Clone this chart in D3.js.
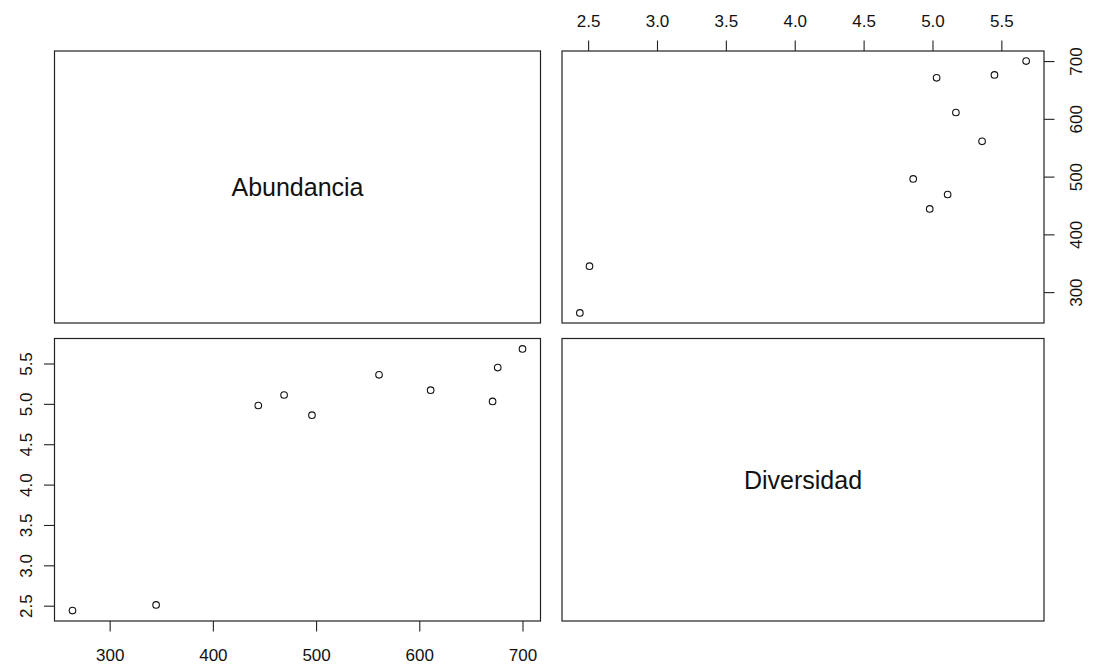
<!DOCTYPE html>
<html>
<head>
<meta charset="utf-8">
<script src="https://cdn.jsdelivr.net/npm/d3@7"></script>
<style>
  body { margin: 0; background: #fff; }
  svg { display: block; }
  text { font-family: "Liberation Sans", Arial, sans-serif; fill: #111; }
</style>
</head>
<body>
<script>
// data
const varNames = ['Abundancia', 'Diversidad'];
const abundancia = [264, 345, 444, 469, 496, 561, 611, 671, 676, 700];
const diversidad = [2.44, 2.51, 4.98, 5.11, 4.86, 5.36, 5.17, 5.03, 5.45, 5.68];
const abundTicks = [300, 400, 500, 600, 700];
const diverTicks = [2.5, 3.0, 3.5, 4.0, 4.5, 5.0, 5.5];

const width = 1095, height = 664;
const cols = [[54.5, 540.5], [562, 1044]];
const rows = [[51, 323], [338.5, 621]];
const tickLen = 10.5;

const columns = [abundancia, diversidad];
const tickSets = [abundTicks, diverTicks];

// R style: data range extended by 4%
function paddedDomain(v) {
  const [lo, hi] = d3.extent(v);
  const pad = (hi - lo) * 0.04;
  return [lo - pad, hi + pad];
}

const xScales = cols.map((c, i) => d3.scaleLinear().domain(paddedDomain(columns[i])).range(c));
const yScales = rows.map((r, i) => d3.scaleLinear().domain(paddedDomain(columns[i])).range([r[1], r[0]]));

const fmt = i => (i === 1 ? d3.format('.1f') : d3.format('d'));

const svg = d3.select('body').append('svg')
  .attr('width', width)
  .attr('height', height);

// panels
for (let r = 0; r < 2; r++) {
  for (let c = 0; c < 2; c++) {
    const g = svg.append('g');
    const [x0, x1] = cols[c];
    const [y0, y1] = rows[r];

    if (r === c) {
      g.append('text')
        .attr('x', (x0 + x1) / 2)
        .attr('y', (y0 + y1) / 2)
        .attr('dy', '0.36em')
        .attr('text-anchor', 'middle')
        .style('font-size', '25px')
        .text(varNames[r]);
    } else {
      const xs = xScales[c], ys = yScales[r];
      g.selectAll('circle')
        .data(d3.range(abundancia.length))
        .enter()
        .append('circle')
        .attr('cx', i => xs(columns[c][i]))
        .attr('cy', i => ys(columns[r][i]))
        .attr('r', 3.3)
        .attr('fill', 'none')
        .attr('stroke', '#111')
        .attr('stroke-width', 1.1);
    }

    g.append('rect')
      .attr('x', x0)
      .attr('y', y0)
      .attr('width', x1 - x0)
      .attr('height', y1 - y0)
      .attr('fill', 'none')
      .attr('stroke', '#222')
      .attr('stroke-width', 1.2);
  }
}

function styleAxis(sel) {
  sel.select('.domain').remove();
  sel.selectAll('.tick line').attr('stroke', '#222').attr('stroke-width', 1.1);
  sel.selectAll('.tick text')
    .style('font-size', '17px')
    .attr('fill', '#111');
}

// top axis (Diversidad) above top-right panel
const topAx = svg.append('g')
  .attr('transform', `translate(0,${rows[0][0]})`)
  .call(d3.axisTop(xScales[1]).tickValues(diverTicks).tickFormat(fmt(1)).tickSize(tickLen).tickSizeOuter(0));
styleAxis(topAx);
topAx.selectAll('.tick text').attr('y', -24.5).attr('dy', 0);

// right axis (Abundancia) beside top-right panel
const rightAx = svg.append('g')
  .attr('transform', `translate(${cols[1][1]},0)`)
  .call(d3.axisRight(yScales[0]).tickValues(abundTicks).tickFormat(fmt(0)).tickSize(tickLen).tickSizeOuter(0));
styleAxis(rightAx);
rightAx.selectAll('.tick text')
  .attr('x', 0).attr('y', 0).attr('dy', 0)
  .attr('text-anchor', 'middle')
  .attr('transform', 'translate(37.5,0) rotate(-90)');

// left axis (Diversidad) beside bottom-left panel
const leftAx = svg.append('g')
  .attr('transform', `translate(${cols[0][0]},0)`)
  .call(d3.axisLeft(yScales[1]).tickValues(diverTicks).tickFormat(fmt(1)).tickSize(tickLen).tickSizeOuter(0));
styleAxis(leftAx);
leftAx.selectAll('.tick text')
  .attr('x', 0).attr('y', 0).attr('dy', 0)
  .attr('text-anchor', 'middle')
  .attr('transform', 'translate(-22.5,0) rotate(-90)');

// bottom axis (Abundancia) below bottom-left panel
const bottomAx = svg.append('g')
  .attr('transform', `translate(0,${rows[1][1]})`)
  .call(d3.axisBottom(xScales[0]).tickValues(abundTicks).tickFormat(fmt(0)).tickSize(tickLen).tickSizeOuter(0));
styleAxis(bottomAx);
bottomAx.selectAll('.tick text').attr('y', 40).attr('dy', 0);
</script>
</body>
</html>
